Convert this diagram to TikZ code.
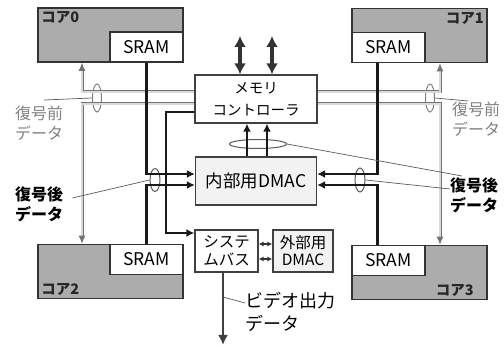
\documentclass[tikz,border=0pt]{standalone}
\usepackage{fontspec}
\setmainfont{Noto Sans CJK JP}
\usepackage{tikz}
\usetikzlibrary{positioning,shapes,arrows.meta}

\begin{document}
\begin{tikzpicture}[x=1pt, y=-1pt,
  core/.style={rectangle, draw=black!80, line width=1.6pt, fill=gray!65, minimum height=54pt, inner sep=0pt},
  sram/.style={rectangle, draw=black!80, line width=1.6pt, fill=white, minimum width=73pt, minimum height=30pt, inner sep=0pt, font=\fontsize{17.5}{18}\selectfont},
  block/.style={rectangle, draw=black!75, line width=1.3pt, align=center, inner sep=0pt},
  tag/.style={inner sep=4pt, font=\fontsize{14.5}{16}\selectfont\bfseries, text=black!85},
  note/.style={inner sep=0pt, align=left, font=\fontsize{16}{20}\selectfont},
  dataline/.style={draw=black!90, line width=2.2pt, -{Latex[length=8pt,width=8pt]}},
  rawline/.style={draw=black!55, line width=0.9pt, double=gray!30, double distance=1.2pt, -{Latex[length=8pt,width=7pt]}},
  bigarrow/.style={draw=black!80, line width=3.2pt, {Latex[length=11pt,width=12pt]}-{Latex[length=11pt,width=12pt]}},
  bundle/.style={ellipse, draw=black!65, line width=1pt, inner sep=0pt},
  pointer/.style={draw=black!65, line width=0.7pt}]
\useasboundingbox (0,0) rectangle (504,347);

% Cores
\node (core0) [core, minimum width=145pt] at (110.5,35) {};
\node (core1) [core, minimum width=135pt] at (419.5,35.5) {};
\node (core2) [core, minimum width=145pt] at (110.5,271.5) {};
\node (core3) [core, minimum width=135pt] at (419.5,272.5) {};
\node (core0lbl) [tag, anchor=north west] at (core0.north west) {コア0};
\node (core1lbl) [tag, anchor=north east] at (core1.north east) {コア1};
\node (core2lbl) [tag, anchor=south west] at (core2.south west) {コア2};
\node (core3lbl) [tag, anchor=south east] at ([xshift=-10pt]core3.south east) {コア3};

% SRAM
\node (sram0) [sram, anchor=south east] at (core0.south east) {SRAM};
\node (sram1) [sram, anchor=south west] at (core1.south west) {SRAM};
\node (sram2) [sram, anchor=north east] at (core2.north east) {SRAM};
\node (sram3) [sram, anchor=north west] at (core3.north west) {SRAM};

% Memory controller
\node (memctrl) [block, minimum width=122pt, minimum height=48pt, font=\fontsize{14.5}{22}\selectfont] at (256,99) {メモリ\\コントローラ};

% Internal DMAC
\node (dmac) [block, fill=gray!10, minimum width=121pt, minimum height=48pt, font=\fontsize{17.5}{18}\selectfont] at (256,181) {内部用DMAC};

% System bus and external DMAC
\node (sysbus) [block, minimum width=63pt, minimum height=42pt, font=\fontsize{15.5}{18}\selectfont] at (226.5,251) {システ\\ムバス};
\node (extdmac) [block, fill=gray!10, minimum width=60pt, minimum height=42pt, font=\fontsize{15.5}{17}\selectfont] at (303,251) {外部用\\DMAC};

% Labels
\node (rawL) [note, text=black!50, anchor=north west] at (15,106) {復号前\\データ};
\node (rawR) [note, text=black!50, anchor=north west] at (452,102) {復号前\\データ};
\node (decL) [note, text=black, anchor=north west] at (15,187) {\bfseries 復号後\\\bfseries データ};
\node (decR) [note, text=black, anchor=north west] at (450,178) {\bfseries 復号後\\\bfseries データ};
\node (vidL) [note, anchor=north west, font=\fontsize{18}{23}\selectfont] at (245,292) {ビデオ出力\\データ};

% Bundles
\node (bundleRawL) [bundle, draw=black!50, minimum width=9pt, minimum height=28pt] at (97,98) {};
\node (bundleRawR) [bundle, draw=black!50, minimum width=9pt, minimum height=28pt] at (430,98) {};
\node (bundleDecL) [bundle, minimum width=10pt, minimum height=23pt] at (155,180) {};
\node (bundleDecR) [bundle, minimum width=10pt, minimum height=24pt] at (360,180) {};
\node (bundleTop) [bundle, minimum width=57pt, minimum height=9pt] at (258,144) {};

% External memory bus
\coordinate (ext1) at (240,36);
\coordinate (ext2) at (272,36);
\draw[bigarrow] (ext1) -- (ext1 |- memctrl.north);
\draw[bigarrow] (ext2) -- (ext2 |- memctrl.north);

% Raw data
\draw[rawline] ([yshift=7pt]memctrl.west) -| ([xshift=-28.5pt]core0.south);
\draw[rawline] ([yshift=-5pt]memctrl.west) -| ([xshift=-28.5pt]core2.north);
\draw[rawline] ([yshift=7pt]memctrl.east) -| ([xshift=20.5pt]core1.south);
\draw[rawline] ([yshift=-5pt]memctrl.east) -| ([xshift=20.5pt]core3.north);

% Decoded data
\draw[dataline] (sram0.south) |- ([yshift=7pt]dmac.west);
\draw[dataline] (sram2.north) |- ([yshift=-4pt]dmac.west);
\draw[dataline] ([xshift=-11pt]sram1.south) |- ([yshift=7pt]dmac.east);
\draw[dataline] ([xshift=-11pt]sram3.north) |- ([yshift=-4pt]dmac.east);
\draw[dataline] ([xshift=-9pt]dmac.north) -- ([xshift=-9pt]memctrl.south);
\draw[dataline] ([xshift=11pt]dmac.north) -- ([xshift=11pt]memctrl.south);
\coordinate (busturn) at (166,233);
\draw[dataline] ([yshift=-13pt]memctrl.west) -| (busturn) -- (sysbus.west |- busturn);

% Bus to external DMAC
\draw[draw=black!80, line width=1.2pt, {Latex[length=5pt,width=5pt]}-{Latex[length=5pt,width=5pt]}] ([yshift=7pt]sysbus.east) -- ([yshift=7pt]extdmac.west);
\draw[draw=black!80, line width=1.2pt, {Latex[length=5pt,width=5pt]}-{Latex[length=5pt,width=5pt]}] ([yshift=-8pt]sysbus.east) -- ([yshift=-8pt]extdmac.west);

% Video output
\coordinate (vidout) at (223,345);
\coordinate (vidtick) at (223,297);
\draw[draw=black!75, line width=2.6pt, -{Latex[length=10pt,width=10pt]}] (sysbus.south -| vidout) -- (vidout);

% Pointers
\draw[pointer] ([xshift=5pt,yshift=6pt]rawL.north) -- (bundleRawL.west);
\draw[pointer] (bundleRawR.east) -- ([xshift=-8pt,yshift=1pt]rawR.north);
\draw[pointer] ([xshift=9pt,yshift=-11pt]decL.north east) -- (bundleDecL.west);
\draw[pointer] (bundleTop.east) -- ([xshift=12pt,yshift=2pt]decR.north west);
\draw[pointer] (bundleDecR.east) -- ([yshift=-11pt]decR.north west);
\draw[pointer] (vidtick) -- ([yshift=-11pt]vidL.north west);
\end{tikzpicture}
\end{document}
